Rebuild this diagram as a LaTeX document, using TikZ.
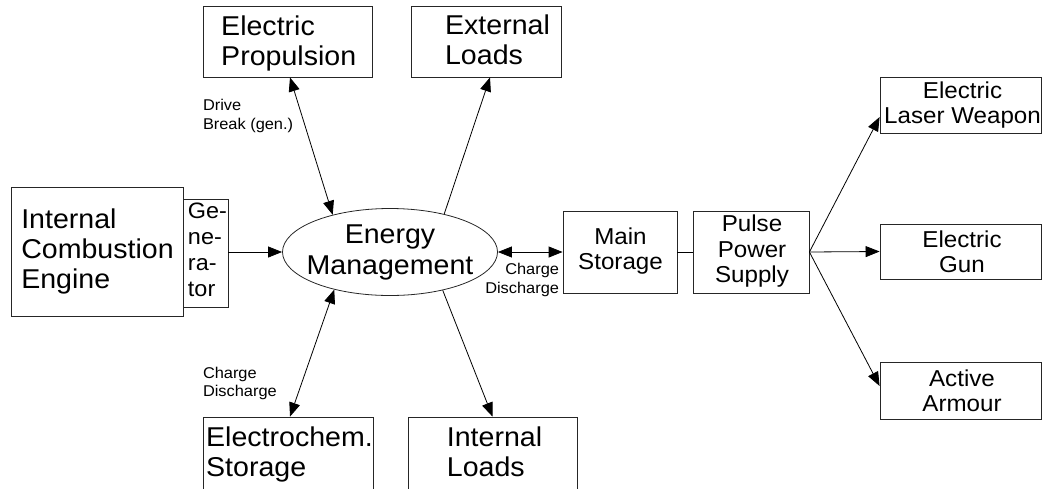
\documentclass[tikz,border=0pt]{standalone}
\usepackage{fontspec}
\setmainfont[FakeStretch=1.05]{Liberation Sans}
\usetikzlibrary{arrows.meta,shapes.geometric,calc}

\tikzset{
  box/.style={draw=black!85, line width=0.8pt, rectangle, inner sep=0pt},
  hub/.style={draw=black!85, line width=0.8pt, ellipse, inner sep=0pt},
  txt/.style={inner sep=0pt, outer sep=0pt, text=black},
  bigtext/.style={font=\fontsize{27.2}{#1}\selectfont},
  midtext/.style={font=\fontsize{23}{#1}\selectfont},
  smalltext/.style={font=\fontsize{15.6}{18.5}\selectfont},
  link/.style={draw=black, line width=0.8pt},
  >={Triangle[length=14pt,width=11pt]}
}

\begin{document}
\begin{tikzpicture}[x=1pt,y=-1pt]
\useasboundingbox (0,0) rectangle (1042,488);

% blocks
\node[box, minimum width=172pt, minimum height=129pt] (ice) at (97,251.5) {};
\node[box, minimum width=45pt, minimum height=108pt] (gen) at (205.5,253) {};
\node[box, minimum width=169pt, minimum height=71pt] (ep) at (287.5,41.5) {};
\node[box, minimum width=150pt, minimum height=71pt] (ext) at (486,41.5) {};
\node[box, minimum width=170pt, minimum height=83pt] (ec) at (288,458.5) {};
\node[box, minimum width=169pt, minimum height=83pt] (il) at (492.5,458.5) {};
\node[hub, minimum width=215pt, minimum height=87pt] (em) at (390,252) {};
\node[box, minimum width=114pt, minimum height=82pt] (ms) at (620,252) {};
\node[box, minimum width=116pt, minimum height=82pt] (pps) at (751,252) {};
\node[box, minimum width=161pt, minimum height=56pt] (laser) at (960.5,105) {};
\node[box, minimum width=161pt, minimum height=55pt] (gun) at (960.5,251.5) {};
\node[box, minimum width=161pt, minimum height=57pt] (armour) at (960.5,390.5) {};

% block texts
\node[txt, align=left, bigtext=30] (ice-t) at (97.5,251) {Internal\\Combustion\\Engine};
\node[txt, align=left, font=\fontsize{22.3}{26}\selectfont] (gen-t) at (207.5,250) {Ge-\\ne-\\ra-\\tor};
\node[txt, align=left, bigtext=30] (ep-t) at (288.7,43.5) {Electric\\Propulsion};
\node[txt, align=left, bigtext=30] (ext-t) at (497.5,39.5) {External\\Loads};
\node[txt, align=center, bigtext=31] (em-t) at (390,252) {Energy\\Management};
\node[txt, align=left, bigtext=30] (ec-t) at (289.5,454.5) {Electrochem.\\Storage};
\node[txt, align=left, bigtext=30] (il-t) at (494.5,451.5) {Internal\\Loads};
\node[txt, align=center, midtext=25] (ms-t) at (620.5,251.5) {Main\\Storage};
\node[txt, align=center, midtext=25.5] (pps-t) at (752,251.5) {Pulse\\Power\\Supply};
\node[txt, align=center, midtext=25.5] (laser-t) at (962.5,105) {Electric\\Laser Weapon};
\node[txt, align=center, midtext=25.5] (gun-t) at (962,252) {Electric\\Gun};
\node[txt, align=center, midtext=25.5] (armour-t) at (962,391) {Active\\Armour};

% connector labels
\node[txt, smalltext, align=left, anchor=west] (drive-l) at (203,116) {Drive\\Break (gen.)};
\node[txt, smalltext, align=right, anchor=east] (ms-l) at (559,280) {Charge\\Discharge};
\node[txt, smalltext, align=left, anchor=west] (ec-l) at (203,383.5) {Charge\\Discharge};

% connectors
\draw[link,->] (gen.east |- em.west) -- (em.west);
\draw[link,<->] ($(ep.south)+(2.5,0)$) -- (em.147);
\draw[link,->] (em.35) -- ($(ext.south)+(4,0)$);
\draw[link,<->] (em.214) -- ($(ec.north)+(2,0)$);
\draw[link,->] (em.324) -- (il.north);
\draw[link,<->] (em.east) -- (ms.west);
\draw[link] (ms.east) -- (pps.west);
\draw[link,->] (pps.east) -- ($(laser.west)+(0,12)$);
\draw[link,->] (pps.east) -- (gun.west);
\draw[link,->] (pps.east) -- ($(armour.west)+(0,-4.5)$);
\end{tikzpicture}
\end{document}
